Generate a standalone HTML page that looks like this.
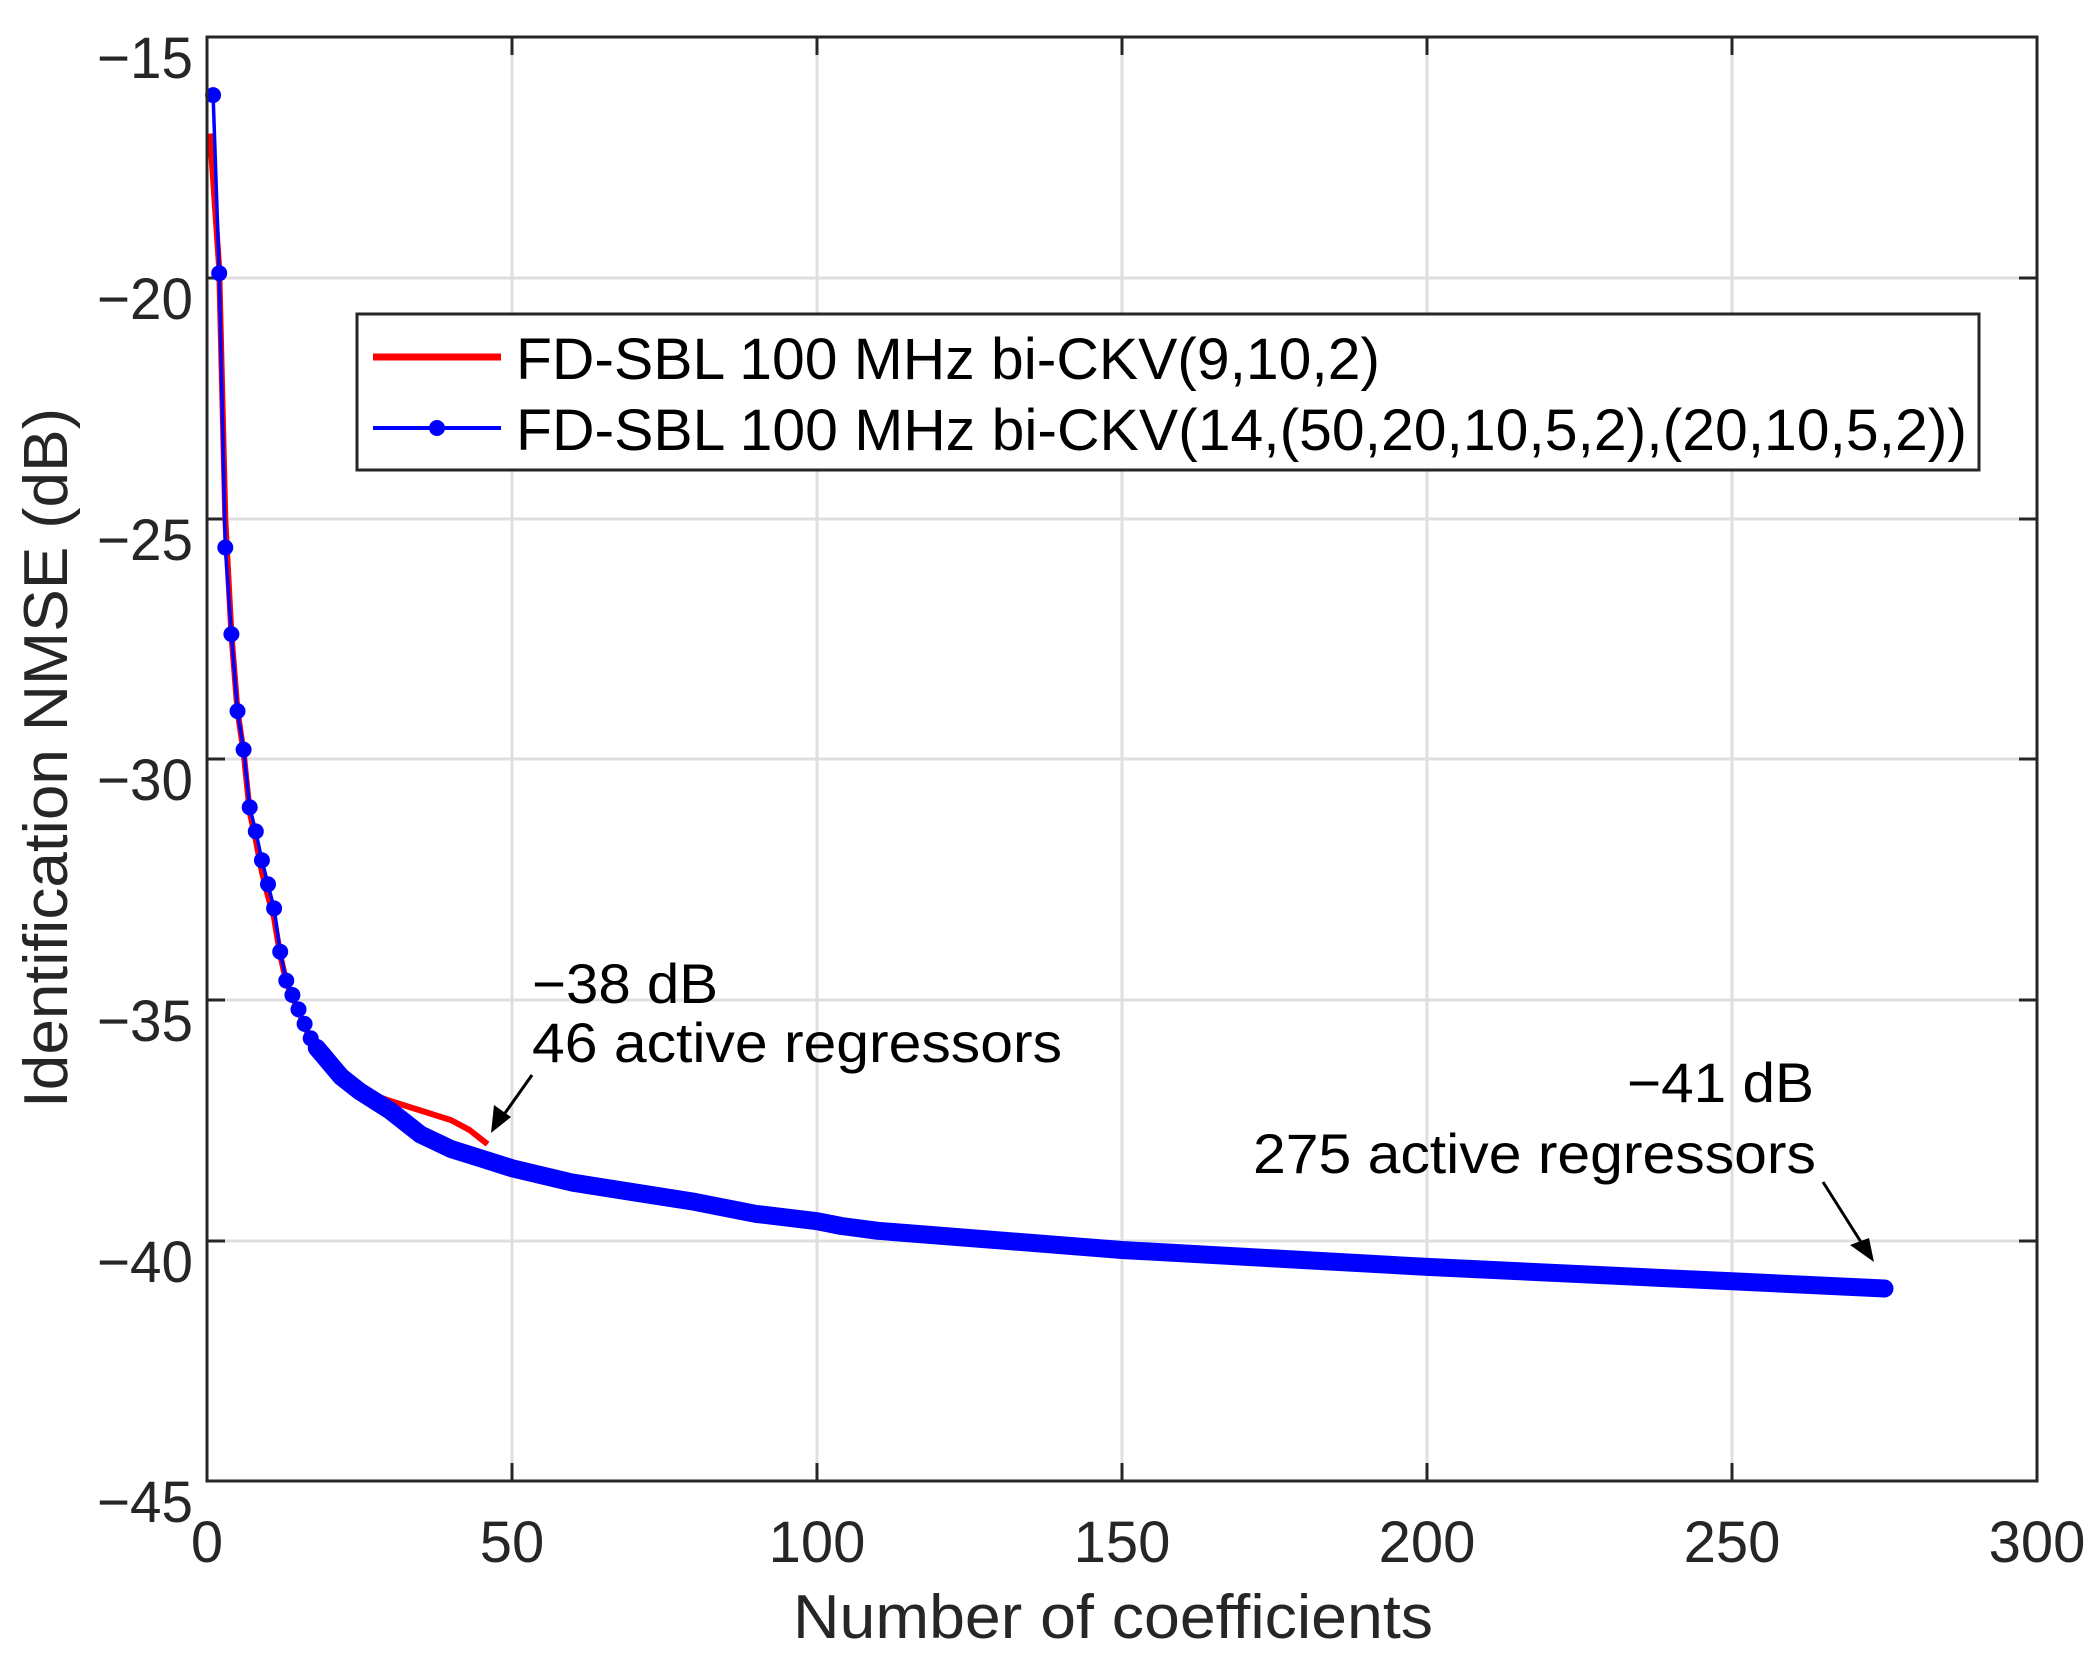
<!DOCTYPE html>
<html><head><meta charset="utf-8"><style>
html,body{margin:0;padding:0;background:#fff;}
svg{display:block;font-family:"Liberation Sans",sans-serif;}
</style></head><body>
<svg width="2094" height="1659" viewBox="0 0 2094 1659" xmlns="http://www.w3.org/2000/svg">
<rect width="2094" height="1659" fill="#fff"/>
<g stroke="#dfdfdf" stroke-width="3">
<line x1="512" y1="37" x2="512" y2="1481"/><line x1="817" y1="37" x2="817" y2="1481"/>
<line x1="1122" y1="37" x2="1122" y2="1481"/><line x1="1427" y1="37" x2="1427" y2="1481"/>
<line x1="1732" y1="37" x2="1732" y2="1481"/>
<line x1="207" y1="278" x2="2037" y2="278"/><line x1="207" y1="519" x2="2037" y2="519"/>
<line x1="207" y1="759" x2="2037" y2="759"/><line x1="207" y1="1000" x2="2037" y2="1000"/>
<line x1="207" y1="1241" x2="2037" y2="1241"/>
</g>
<g stroke="#262626" stroke-width="3">
<path d="M512 1481v-18M817 1481v-18M1122 1481v-18M1427 1481v-18M1732 1481v-18M512 37v18M817 37v18M1122 37v18M1427 37v18M1732 37v18"/>
<path d="M207 278h18M207 519h18M207 759h18M207 1000h18M207 1241h18M2037 278h-18M2037 519h-18M2037 759h-18M2037 1000h-18M2037 1241h-18"/>
</g>
<polyline fill="none" stroke="#ff0000" stroke-width="6" stroke-linejoin="round" points="210,133.6 219.2,268.4 225.3,518.6 231.4,634 237.5,711 243.6,752 249.7,812 255.8,840 261.9,872 268,896 274.1,918 280.2,955 286.3,982 292.4,997 298.5,1011 304.6,1026 310.7,1040 316.8,1050 329,1064 341.2,1077 359.5,1090 390,1100.9 420.5,1110.5 451,1120.1 469.3,1129.8 487.6,1144.2"/>
<polyline fill="none" stroke="#0000ff" stroke-width="18" stroke-linecap="round" stroke-linejoin="round" points="316.8,1047.9 322.9,1055.1 329,1062.4 341.2,1076.8 359.5,1091.2 390,1110.5 420.5,1134.5 451,1149 481.5,1158.6 512,1168.2 573,1182.7 634,1192.3 695,1201.9 756,1213.9 817,1221.2 841.4,1226 878,1230.8 939,1235.6 1122,1250 1427,1266.9 1732,1281.3 1884.5,1288.5"/>
<polyline fill="none" stroke="#0000ff" stroke-width="3.5" stroke-linejoin="round" points="213.1,95.1 219.2,273.2 225.3,547.5 231.4,634.1 237.5,711.1 243.6,749.6 249.7,807.3 255.8,831.4 261.9,860.3 268,884.3 274.1,908.4 280.2,951.7 286.3,980.6 292.4,995 298.5,1009.4 304.6,1023.9 310.7,1038.3 316.8,1047.9"/>
<g fill="#0000ff">
<circle cx="213.1" cy="95.1" r="8"/><circle cx="219.2" cy="273.2" r="8"/><circle cx="225.3" cy="547.5" r="8"/>
<circle cx="231.4" cy="634.1" r="8"/><circle cx="237.5" cy="711.1" r="8"/><circle cx="243.6" cy="749.6" r="8"/>
<circle cx="249.7" cy="807.3" r="8"/><circle cx="255.8" cy="831.4" r="8"/><circle cx="261.9" cy="860.3" r="8"/>
<circle cx="268" cy="884.3" r="8"/><circle cx="274.1" cy="908.4" r="8"/><circle cx="280.2" cy="951.7" r="8"/>
<circle cx="286.3" cy="980.6" r="8"/><circle cx="292.4" cy="995" r="8"/><circle cx="298.5" cy="1009.4" r="8"/>
<circle cx="304.6" cy="1023.9" r="8"/><circle cx="310.7" cy="1038.3" r="8"/>
</g>
<rect x="207" y="37" width="1830" height="1444" fill="none" stroke="#262626" stroke-width="3"/>
<rect x="357" y="314" width="1622" height="156" fill="#fff" stroke="#262626" stroke-width="3"/>
<line x1="373" y1="357" x2="501" y2="357" stroke="#ff0000" stroke-width="7"/>
<line x1="373" y1="428" x2="501" y2="428" stroke="#0000ff" stroke-width="4"/>
<circle cx="437" cy="428" r="8" fill="#0000ff"/>
<g font-size="58" fill="#000">
<text x="516" y="379" textLength="864" lengthAdjust="spacingAndGlyphs">FD-SBL 100 MHz bi-CKV(9,10,2)</text>
<text x="516" y="450" textLength="1451" lengthAdjust="spacingAndGlyphs">FD-SBL 100 MHz bi-CKV(14,(50,20,10,5,2),(20,10,5,2))</text>
</g>
<g font-size="58" fill="#262626" text-anchor="end">
<text x="193" y="78" textLength="96" lengthAdjust="spacingAndGlyphs">−15</text>
<text x="193" y="319" textLength="96" lengthAdjust="spacingAndGlyphs">−20</text>
<text x="193" y="560" textLength="96" lengthAdjust="spacingAndGlyphs">−25</text>
<text x="193" y="800" textLength="96" lengthAdjust="spacingAndGlyphs">−30</text>
<text x="193" y="1041" textLength="96" lengthAdjust="spacingAndGlyphs">−35</text>
<text x="193" y="1282" textLength="96" lengthAdjust="spacingAndGlyphs">−40</text>
<text x="193" y="1522" textLength="96" lengthAdjust="spacingAndGlyphs">−45</text>
</g>
<g font-size="58" fill="#262626" text-anchor="middle">
<text x="207" y="1562">0</text><text x="512" y="1562">50</text><text x="817" y="1562">100</text>
<text x="1122" y="1562">150</text><text x="1427" y="1562">200</text><text x="1732" y="1562">250</text>
<text x="2037" y="1562">300</text>
</g>
<text x="1113" y="1638" font-size="62" fill="#262626" text-anchor="middle" textLength="640" lengthAdjust="spacingAndGlyphs">Number of coefficients</text>
<text transform="translate(67,758) rotate(-90)" font-size="62" fill="#262626" text-anchor="middle" textLength="700" lengthAdjust="spacingAndGlyphs">Identification NMSE (dB)</text>
<g font-size="56" fill="#000">
<text x="532" y="1003" textLength="186" lengthAdjust="spacingAndGlyphs">−38 dB</text>
<text x="532" y="1062" textLength="530" lengthAdjust="spacingAndGlyphs">46 active regressors</text>
<text x="1627" y="1102" textLength="187" lengthAdjust="spacingAndGlyphs">−41 dB</text>
<text x="1253" y="1173" textLength="563" lengthAdjust="spacingAndGlyphs">275 active regressors</text>
</g>
<g stroke="#000" stroke-width="3">
<line x1="532" y1="1075" x2="498" y2="1123"/>
<line x1="1823" y1="1182" x2="1866" y2="1250"/>
</g>
<polygon points="491,1133 494,1105 511,1117" fill="#000"/>
<polygon points="1874,1262 1850,1245 1869,1238" fill="#000"/>
</svg>
</body></html>
